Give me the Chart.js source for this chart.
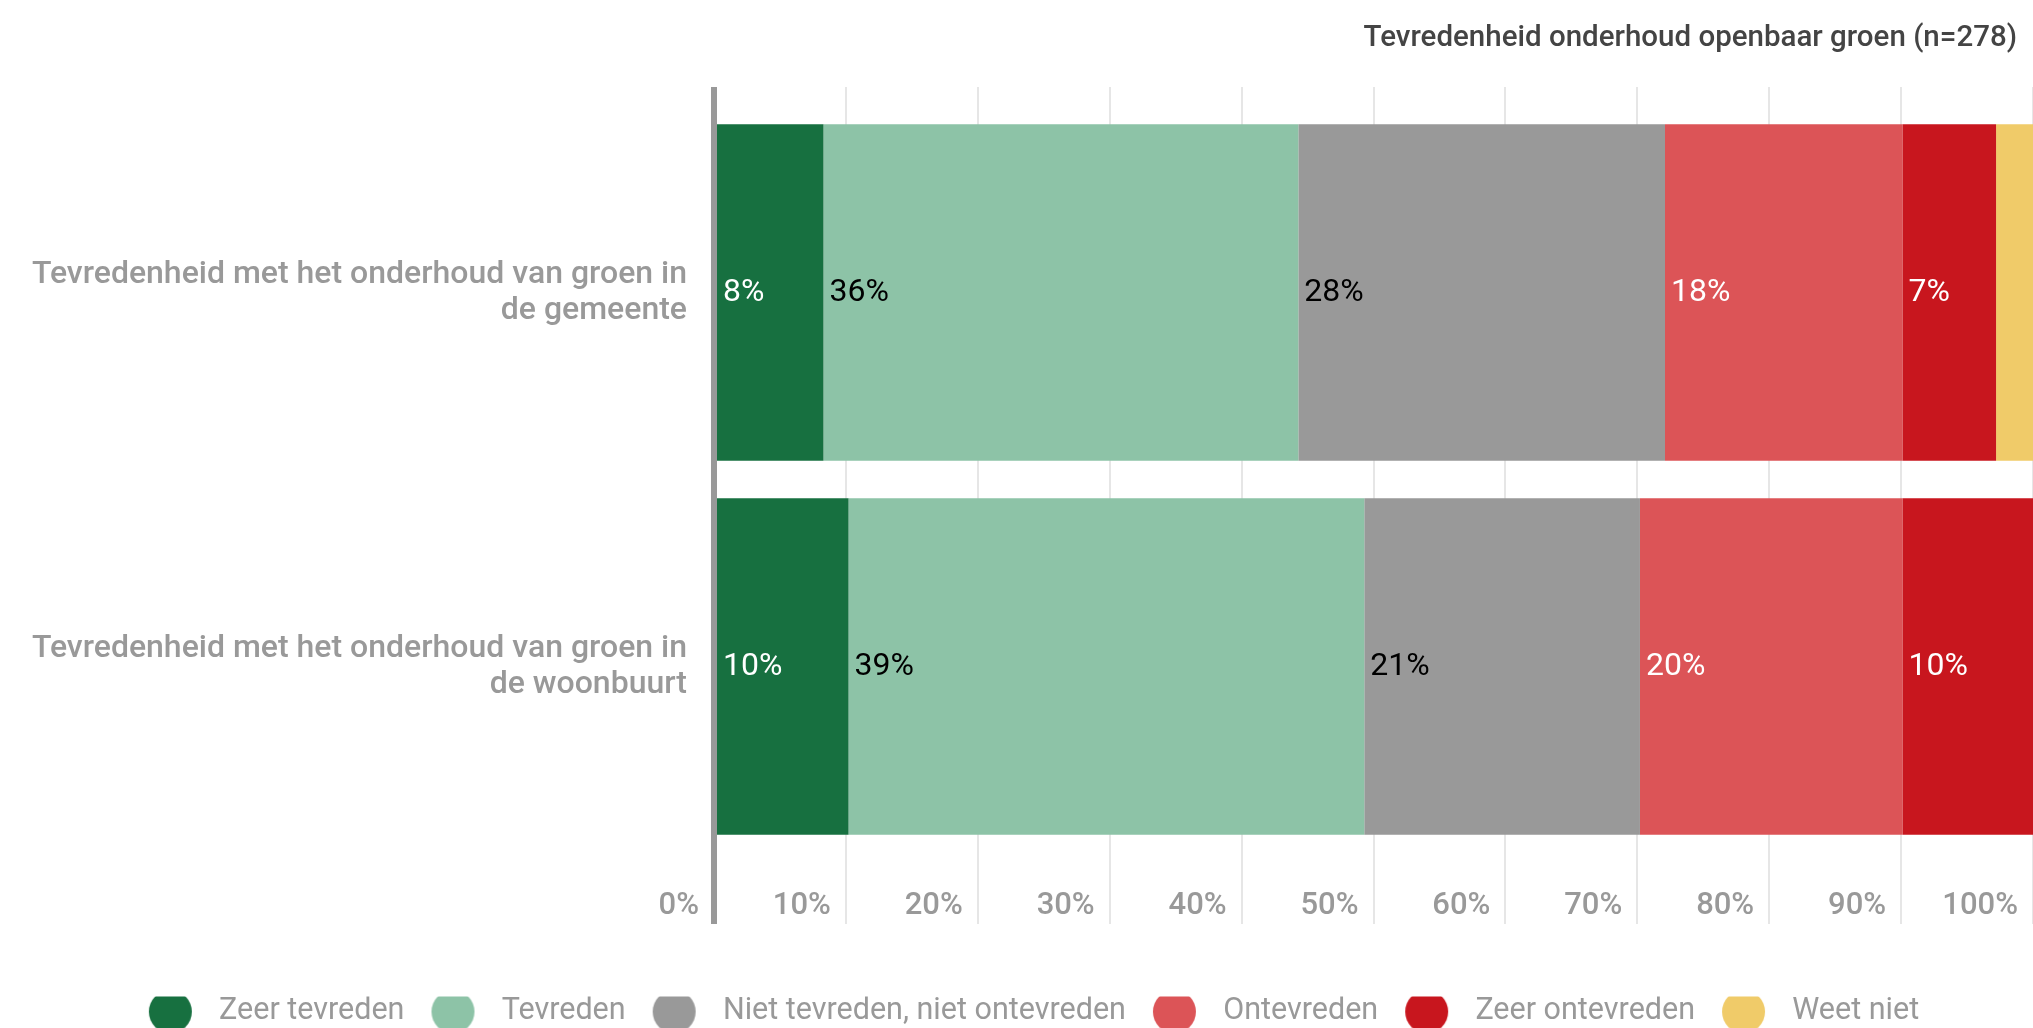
<!DOCTYPE html>
<html>
<head>
<meta charset="utf-8">
<script src="https://cdn.jsdelivr.net/npm/chart.js@4.4.1/dist/chart.umd.min.js"></script>
<style>
  html, body { margin: 0; padding: 0; background: #fff; }
  #wrap { position: relative; width: 2033px; height: 1028px; }
</style>
</head>
<body>
<div id="wrap"><canvas id="chart"></canvas></div>
<script>
// data (percent of n=278)
const categories = [
    ['Tevredenheid met het onderhoud van groen in', 'de gemeente'],
    ['Tevredenheid met het onderhoud van groen in', 'de woonbuurt']
];
const seriesNames = ['Zeer tevreden', 'Tevreden', 'Niet tevreden, niet ontevreden', 'Ontevreden', 'Zeer ontevreden', 'Weet niet'];
const zeerTevreden = [8.3, 10.2];
const tevreden = [36.0, 39.1];
const neutraal = [27.8, 20.9];
const ontevreden = [18.0, 19.9];
const zeerOntevreden = [7.1, 9.9];
const weetNiet = [2.8, 0];
const tickLabels = ['0%', '10%', '20%', '30%', '40%', '50%', '60%', '70%', '80%', '90%', '100%'];
const chartTitle = 'Tevredenheid onderhoud openbaar groen (n=278)';

const colors = ['#177040', '#8dc3a7', '#999999', '#dc5457', '#c8161e', '#f0cb69'];
const labelColors = ['#ffffff', '#000000', '#000000', '#ffffff', '#ffffff', '#000000'];
const seriesValues = [zeerTevreden, tevreden, neutraal, ontevreden, zeerOntevreden, weetNiet];

Chart.defaults.font.family = 'Roboto';
Chart.defaults.color = '#999';

const gridColor = c => c.index === 0 ? '#999999' : '#e6e6e6';
const gridWidth = c => c.index === 0 ? 6 : 2;

// legend dot: circle with extra room left of it so the gaps match
function dot(color) {
    const c = document.createElement('canvas');
    c.width = 82;
    c.height = 44;
    const g = c.getContext('2d');
    g.fillStyle = color;
    g.beginPath();
    g.arc(48.5, 22, 21.5, 0, Math.PI * 2);
    g.fill();
    return c;
}

// percentage labels at the start of every segment
const barLabels = {
    id: 'barLabels',
    afterDatasetsDraw(chart) {
        const ctx = chart.ctx;
        ctx.save();
        ctx.font = '400 32px Roboto';
        ctx.textBaseline = 'middle';
        ctx.textAlign = 'left';
        chart.data.datasets.forEach((ds, i) => {
            chart.getDatasetMeta(i).data.forEach((bar, j) => {
                const v = ds.data[j];
                if (v < 4) return;
                ctx.fillStyle = labelColors[i];
                ctx.fillText(Math.round(v) + '%', bar.base + 6, bar.y);
            });
        });
        ctx.restore();
    }
};

// title sits a bit in from the right edge, legend a bit right of centre
const nudge = {
    id: 'nudge',
    afterLayout(chart) {
        if (chart.titleBlock) chart.titleBlock.right -= 16;
        if (chart.legend) chart.legend.left += 8;
    }
};

new Chart(document.getElementById('chart'), {
    type: 'bar',
    data: {
        labels: categories,
        datasets: seriesNames.map((name, i) => ({
            label: name,
            data: seriesValues[i],
            backgroundColor: colors[i],
            borderWidth: 0,
            barPercentage: 0.9,
            categoryPercentage: 1.0
        }))
    },
    options: {
        indexAxis: 'y',
        responsive: true,
        maintainAspectRatio: false,
        animation: false,
        layout: { padding: { top: 0, left: 0, right: 0, bottom: -9 } },
        scales: {
            x: {
                stacked: true,
                min: 0,
                max: 100,
                afterFit: s => { s.height = 143; },
                border: { display: false },
                grid: { color: gridColor, lineWidth: gridWidth, tickLength: 70.5 },
                ticks: {
                    stepSize: 10,
                    autoSkip: false,
                    maxRotation: 0,
                    align: 'end',
                    labelOffset: -15,
                    padding: -36,
                    color: '#999',
                    font: { size: 31, weight: 500 },
                    callback: (v, i) => tickLabels[i]
                }
            },
            x2: {
                type: 'linear',
                position: 'top',
                min: 0,
                max: 100,
                afterFit: s => { s.height = 18.5; },
                border: { display: false },
                grid: { color: gridColor, lineWidth: gridWidth, drawOnChartArea: false, tickLength: 18.5 },
                ticks: { display: false, stepSize: 10 }
            },
            y: {
                stacked: true,
                z: 1,
                afterFit: s => { s.width = 714; },
                grid: { display: false, drawTicks: false, tickLength: 0 },
                border: { display: true, color: '#999999', width: 6 },
                ticks: {
                    color: '#999',
                    padding: 27,
                    font: { size: 32, weight: 500, lineHeight: 1.125 }
                }
            }
        },
        plugins: {
            title: {
                display: true,
                text: chartTitle,
                align: 'end',
                color: '#444',
                font: { size: 29.5, weight: 500, lineHeight: 1.2 },
                padding: { top: 21.3, bottom: 30.3 }
            },
            legend: {
                position: 'bottom',
                labels: {
                    usePointStyle: true,
                    pointStyleWidth: 82,
                    padding: 0,
                    color: '#999',
                    font: { size: 30.5 },
                    generateLabels(chart) {
                        const items = Chart.defaults.plugins.legend.labels.generateLabels(chart);
                        items.forEach((it, i) => { it.pointStyle = dot(colors[i]); });
                        return items;
                    }
                }
            },
            tooltip: { enabled: false }
        }
    },
    plugins: [barLabels, nudge]
});
</script>
</body>
</html>
